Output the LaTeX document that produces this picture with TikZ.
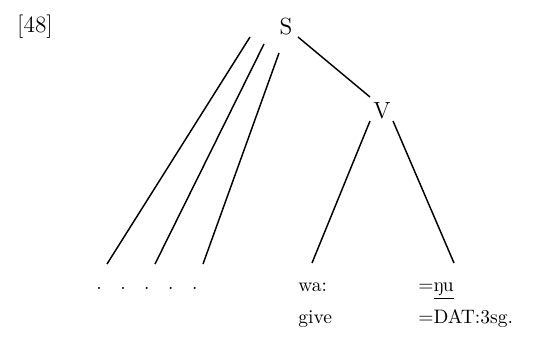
\documentclass[tikz,border=0pt]{standalone}
\usepackage{fontspec}
\setmainfont{Latin Modern Roman}
\begin{document}
\begin{tikzpicture}[x=0.513pt,y=-0.513pt,
  lbl/.style={inner sep=0pt,font=\fontsize{10}{12}\selectfont},
  cat/.style={inner sep=0pt,font=\fontsize{12}{14}\selectfont},
  gl/.style={lbl,anchor=base west},
  branch/.style={line width=0.75pt}]
\useasboundingbox (0,0) rectangle (557,341);
\node[cat] (ex) at (35,27) {[48]};
\node[cat] (S) at (286,27) {S};
\node[cat] (V) at (382,111) {V};
% start/end coordinates
\coordinate (a1) at (250,37); \coordinate (b1) at (107,264);
\coordinate (a2) at (264,44); \coordinate (b2) at (155,264);
\coordinate (a3) at (279,53); \coordinate (b3) at (203,264);
\coordinate (a4) at (298,37); \coordinate (b4) at (370,97);
\coordinate (a5) at (370,121); \coordinate (b5) at (312,263);
\coordinate (a6) at (393,121); \coordinate (b6) at (454,263);
\draw[branch] (a1) -- (b1);
\draw[branch] (a2) -- (b2);
\draw[branch] (a3) -- (b3);
\draw[branch] (a4) -- (b4);
\draw[branch] (a5) -- (b5);
\draw[branch] (a6) -- (b6);
\node[gl] (dots) at (96,289) {.\hskip0.95em.\hskip0.95em.\hskip0.95em.\hskip0.95em.};
\node[gl] (wa) at (298,291) {wa:};
\node[gl] (nu) at (418,291) {=\underline{ŋu}};
\node[gl] (give) at (298,323) {give};
\node[gl] (dat) at (418,323) {=DAT:3sg.};
\end{tikzpicture}
\end{document}
